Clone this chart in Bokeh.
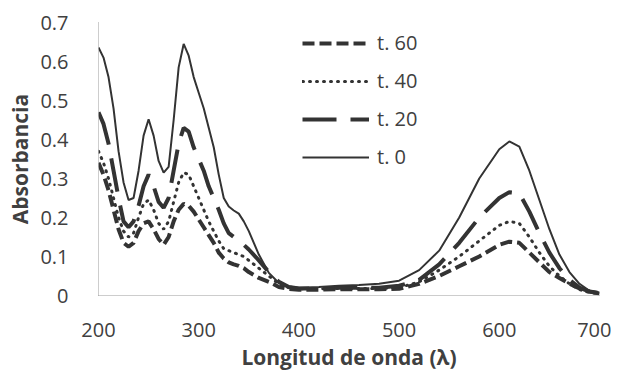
from bokeh.plotting import figure
from bokeh.models import Legend, LegendItem, Range1d, FixedTicker
from bokeh.embed import file_html
from bokeh.resources import INLINE

wavelength = [200, 205, 210, 215, 220, 225, 230, 235, 240, 245, 250, 255, 260, 265, 270, 275,
              280, 285, 290, 295, 300, 305, 310, 315, 320, 325, 330, 335, 340, 345, 350, 360,
              370, 380, 390, 400, 420, 440, 460, 480, 500, 520, 540, 560, 580, 600, 610, 620,
              630, 640, 650, 660, 670, 680, 690, 700]

t0 = [0.636, 0.61, 0.56, 0.48, 0.37, 0.29, 0.245, 0.25, 0.32, 0.41, 0.452, 0.41, 0.345, 0.315, 0.33, 0.45,
      0.585, 0.645, 0.615, 0.56, 0.52, 0.48, 0.43, 0.38, 0.31, 0.25, 0.228, 0.218, 0.21, 0.19, 0.165, 0.105,
      0.058, 0.032, 0.023, 0.02, 0.022, 0.025, 0.027, 0.03, 0.038, 0.065, 0.115, 0.2, 0.3, 0.375, 0.395, 0.382,
      0.32, 0.245, 0.17, 0.105, 0.06, 0.03, 0.012, 0.006]

t20 = [0.47, 0.44, 0.39, 0.32, 0.25, 0.19, 0.175, 0.19, 0.23, 0.28, 0.31, 0.28, 0.24, 0.225, 0.25, 0.32,
       0.39, 0.43, 0.42, 0.38, 0.35, 0.32, 0.28, 0.25, 0.22, 0.185, 0.16, 0.15, 0.14, 0.13, 0.118, 0.09,
       0.06, 0.035, 0.022, 0.018, 0.018, 0.02, 0.02, 0.02, 0.025, 0.04, 0.08, 0.135, 0.2, 0.25, 0.265, 0.262,
       0.215, 0.16, 0.11, 0.07, 0.04, 0.02, 0.01, 0.005]

t40 = [0.37, 0.34, 0.30, 0.25, 0.20, 0.165, 0.15, 0.16, 0.20, 0.235, 0.245, 0.22, 0.185, 0.17, 0.19, 0.24,
       0.29, 0.315, 0.31, 0.28, 0.25, 0.22, 0.19, 0.165, 0.14, 0.12, 0.115, 0.11, 0.105, 0.10, 0.09, 0.07,
       0.05, 0.03, 0.02, 0.017, 0.017, 0.018, 0.018, 0.018, 0.02, 0.035, 0.065, 0.10, 0.14, 0.18, 0.19, 0.185,
       0.15, 0.11, 0.075, 0.05, 0.03, 0.015, 0.008, 0.005]

t60 = [0.34, 0.31, 0.27, 0.22, 0.17, 0.135, 0.125, 0.135, 0.165, 0.185, 0.19, 0.17, 0.145, 0.13, 0.15, 0.19,
       0.22, 0.235, 0.23, 0.215, 0.195, 0.175, 0.155, 0.135, 0.11, 0.095, 0.085, 0.08, 0.076, 0.07, 0.06, 0.045,
       0.035, 0.022, 0.017, 0.015, 0.015, 0.016, 0.016, 0.016, 0.017, 0.03, 0.05, 0.075, 0.10, 0.13, 0.138, 0.135,
       0.11, 0.085, 0.06, 0.045, 0.03, 0.018, 0.01, 0.006]

labels = ["t. 60", "t. 40", "t. 20", "t. 0"]
x_ticks = [200, 300, 400, 500, 600, 700]
y_ticks = [0, 0.1, 0.2, 0.3, 0.4, 0.5, 0.6, 0.7]

FONT = "Open Sans"
TXT = "#404040"
LINE = "#333333"

p = figure(frame_width=501, frame_height=273, output_backend="svg", toolbar_location=None,
           x_range=Range1d(200, 700), y_range=Range1d(0, 0.7),
           min_border_left=98, min_border_right=12, min_border_top=22, min_border_bottom=60)
p.outline_line_color = None
p.xgrid.grid_line_color = None
p.ygrid.grid_line_color = None
p.background_fill_color = "white"

r60 = p.line(wavelength, t60, line_color=LINE, line_width=4, line_dash="12 5")
r40 = p.line(wavelength, t40, line_color=LINE, line_width=3, line_dash="1 6", line_cap="round")
r20 = p.line(wavelength, t20, line_color=LINE, line_width=4, line_dash="34 14")
r0 = p.line(wavelength, t0, line_color=LINE, line_width=2)

for ax in (p.xaxis[0], p.yaxis[0]):
    ax.axis_line_color = "#9a9a9a"
    ax.axis_line_dash = "1 1"
    ax.axis_line_width = 1
    ax.major_tick_line_color = None
    ax.minor_tick_line_color = None
    ax.major_label_text_font = FONT
    ax.major_label_text_font_size = "20px"
    ax.major_label_text_color = TXT
    ax.axis_label_text_font = FONT
    ax.axis_label_text_font_size = "21px"
    ax.axis_label_text_font_style = "bold"
    ax.axis_label_text_color = TXT

p.xaxis.ticker = FixedTicker(ticks=x_ticks)
p.yaxis.ticker = FixedTicker(ticks=y_ticks)
p.yaxis.major_label_overrides = {0: "0"}
p.xaxis.major_label_standoff = 21
p.yaxis.major_label_standoff = 24
p.xaxis.axis_label = "Longitud de onda (λ)"
p.yaxis.axis_label = "Absorbancia"
p.xaxis.axis_label_standoff = 3
p.yaxis.axis_label_standoff = 3

legend = Legend(items=[LegendItem(label=labels[0], renderers=[r60]),
                       LegendItem(label=labels[1], renderers=[r40]),
                       LegendItem(label=labels[2], renderers=[r20]),
                       LegendItem(label=labels[3], renderers=[r0])],
                location=(204, 125), orientation="vertical")
legend.background_fill_alpha = 0
legend.border_line_color = None
legend.padding = 0
legend.margin = 0
legend.spacing = 11
legend.glyph_width = 67
legend.glyph_height = 20
legend.label_height = 20
legend.label_standoff = 8
legend.label_text_font = FONT
legend.label_text_font_size = "20px"
legend.label_text_color = TXT
p.add_layout(legend, "center")

open("out.html", "w").write(file_html(p, INLINE))
